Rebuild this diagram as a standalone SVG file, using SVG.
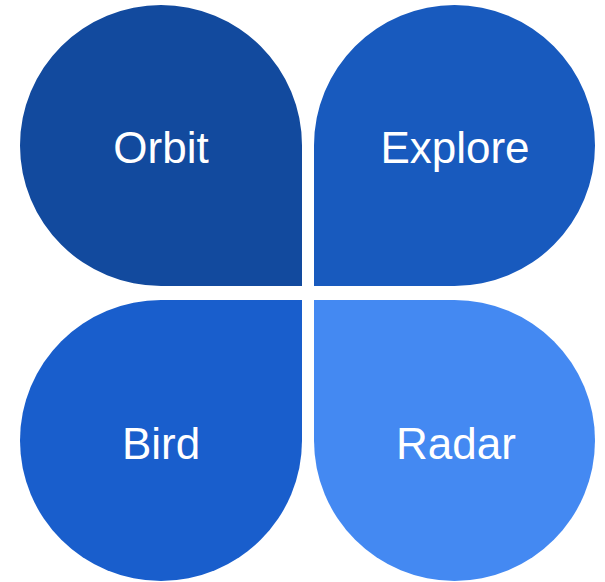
<svg xmlns="http://www.w3.org/2000/svg" width="605" height="582" viewBox="0 0 605 582">
  <style>
    .label { font-family: "Liberation Sans", Arial, sans-serif; font-size: 44px; fill: #ffffff; text-anchor: middle; }
  </style>
  <rect width="605" height="582" fill="#ffffff"/>
  <!-- four petals, each a three-quarter circle with a square corner toward the centre -->
  <g id="orbit">
    <path d="M302,286 H161 A141,140.5 0 1 1 302,145.5 Z" fill="#124A9E"/>
    <text class="label" x="161" y="163">Orbit</text>
  </g>
  <g id="explore">
    <path d="M314,286 V145.5 A140.5,140.5 0 1 1 454.5,286 Z" fill="#185ABE"/>
    <text class="label" x="455" y="163">Explore</text>
  </g>
  <g id="bird">
    <path d="M302,300 V440.5 A141,140.5 0 1 1 161,300 Z" fill="#195ECC"/>
    <text class="label" x="161" y="459">Bird</text>
  </g>
  <g id="radar">
    <path d="M314,300 H454.5 A140.5,140.5 0 1 1 314,440.5 Z" fill="#4489F2"/>
    <text class="label" x="456" y="459">Radar</text>
  </g>
  <g id="connectors"></g>
</svg>
